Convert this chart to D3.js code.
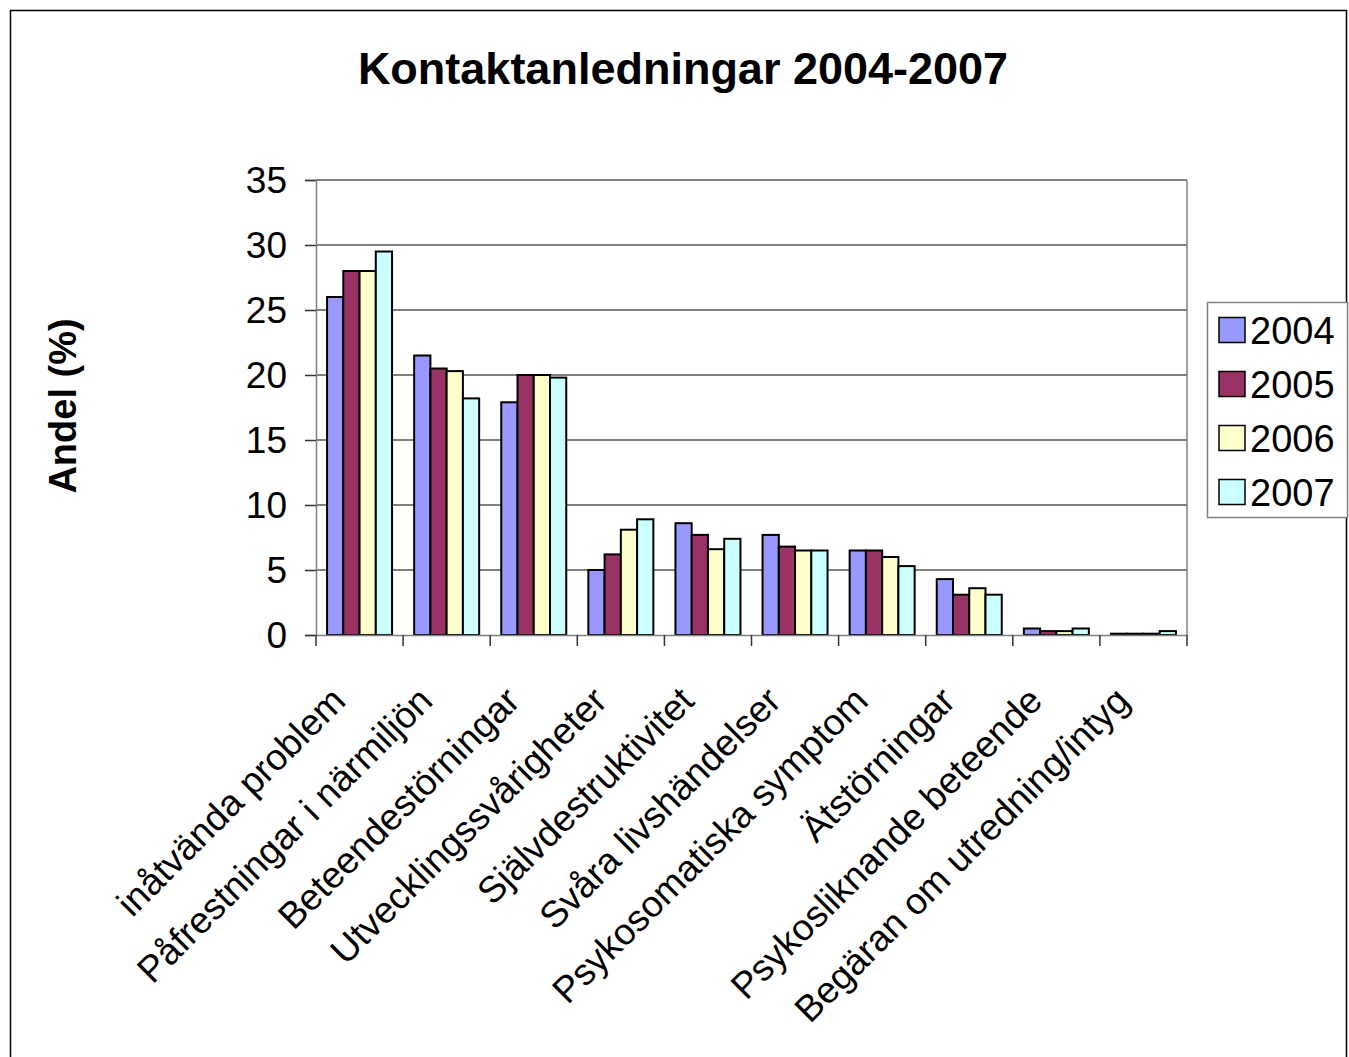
<!DOCTYPE html>
<html>
<head>
<meta charset="utf-8">
<script src="https://cdn.jsdelivr.net/npm/d3@7"></script>
<style>
  body { margin: 0; background: #fff; }
  text { font-family: "Liberation Sans", Arial, sans-serif; }
</style>
</head>
<body>
<div id="chart"></div>
<script>
// chart data
var categories = [
  "inåtvända problem",
  "Påfrestningar i närmiljön",
  "Beteendestörningar",
  "Utvecklingssvårigheter",
  "Självdestruktivitet",
  "Svåra livshändelser",
  "Psykosomatiska symptom",
  "Ätstörningar",
  "Psykosliknande beteende",
  "Begäran om utredning/intyg"
];
var years = ["2004", "2005", "2006", "2007"];
var values2004 = [26, 21.5, 17.9, 5.0, 8.6, 7.7, 6.5, 4.3, 0.5, 0.1];
var values2005 = [28, 20.5, 20, 6.2, 7.7, 6.8, 6.5, 3.1, 0.3, 0.1];
var values2006 = [28, 20.3, 20, 8.1, 6.6, 6.5, 6.0, 3.6, 0.3, 0.1];
var values2007 = [29.5, 18.2, 19.8, 8.9, 7.4, 6.5, 5.3, 3.1, 0.5, 0.3];
var yTicks = [0, 5, 10, 15, 20, 25, 30, 35];
var colors = ["#9999FF", "#993366", "#FFFFCC", "#CCFFFF"];

var seriesValues = [values2004, values2005, values2006, values2007];

var svgWidth = 1349;
var svgHeight = 1057;

var margin = { top: 180, left: 316, right: 1187, bottom: 635 };

var svg = d3.select("#chart")
  .append("svg")
  .attr("width", svgWidth)
  .attr("height", svgHeight);

// outer border
svg.append("rect")
  .attr("x", 10.5).attr("y", 10.5)
  .attr("width", 1336).attr("height", 1060)
  .attr("fill", "none").attr("stroke", "#000").attr("stroke-width", 1.5);

// scales
var x0 = d3.scaleBand()
  .domain(categories)
  .range([margin.left, margin.right])
  .paddingInner(0)
  .paddingOuter(0);

var x1 = d3.scaleBand()
  .domain(years)
  .range([0, x0.bandwidth()])
  .paddingOuter(0.68);

var y = d3.scaleLinear()
  .domain([0, 35])
  .range([margin.bottom, margin.top]);

// gridlines
svg.append("g")
  .selectAll("line")
  .data(yTicks.filter(d => d > 0))
  .enter()
  .append("line")
  .attr("x1", margin.left).attr("x2", margin.right)
  .attr("y1", d => y(d)).attr("y2", d => y(d))
  .attr("stroke", "#000").attr("stroke-width", 1);

// plot area border (right side)
svg.append("line")
  .attr("x1", margin.right).attr("x2", margin.right)
  .attr("y1", margin.top).attr("y2", margin.bottom)
  .attr("stroke", "#808080").attr("stroke-width", 1.5);

// bars
var groups = svg.append("g")
  .selectAll("g")
  .data(categories)
  .enter()
  .append("g")
  .attr("transform", d => `translate(${x0(d)},0)`);

groups.selectAll("rect")
  .data((d, i) => years.map((yr, j) => ({ year: yr, value: seriesValues[j][i], color: colors[j] })))
  .enter()
  .append("rect")
  .attr("x", d => x1(d.year))
  .attr("y", d => y(d.value))
  .attr("width", x1.bandwidth())
  .attr("height", d => y(0) - y(d.value))
  .attr("fill", d => d.color)
  .attr("stroke", "#000")
  .attr("stroke-width", 2);

// y axis
var yAxis = d3.axisLeft(y)
  .tickValues(yTicks)
  .tickSize(11)
  .tickPadding(18);

var yG = svg.append("g")
  .attr("transform", `translate(${margin.left},0)`)
  .call(yAxis);
yG.select(".domain").attr("stroke", "#808080").attr("stroke-width", 1.5);
yG.selectAll(".tick line").attr("stroke", "#333").attr("stroke-width", 1.5);
yG.selectAll(".tick text")
  .attr("font-size", 37)
  .attr("font-family", "Liberation Sans, Arial, sans-serif")
  .attr("fill", "#000")
  .attr("dy", "0.35em");

// x axis
var xAxis = d3.axisBottom(x0).tickSize(0).tickFormat("");
var xG = svg.append("g")
  .attr("transform", `translate(0,${margin.bottom})`)
  .call(xAxis);
xG.select(".domain").attr("stroke", "#808080").attr("stroke-width", 1.5);

// ticks at category boundaries
svg.append("g")
  .selectAll("line")
  .data(categories.concat(["end"]))
  .enter()
  .append("line")
  .attr("x1", (d, i) => margin.left + i * x0.step())
  .attr("x2", (d, i) => margin.left + i * x0.step())
  .attr("y1", margin.bottom).attr("y2", margin.bottom + 11)
  .attr("stroke", "#333").attr("stroke-width", 1.5);

// category labels
svg.append("g")
  .selectAll("text")
  .data(categories)
  .enter()
  .append("text")
  .attr("transform", d => `translate(${x0(d) + x0.bandwidth() / 2 - 12},${margin.bottom + 68}) rotate(-45)`)
  .attr("text-anchor", "end")
  .attr("font-size", 37)
  .attr("fill", "#000")
  .text(d => d);

// title
svg.append("text")
  .attr("x", 683).attr("y", 84)
  .attr("text-anchor", "middle")
  .attr("font-size", 45)
  .attr("font-weight", "bold")
  .text("Kontaktanledningar 2004-2007");

// y label
svg.append("text")
  .attr("transform", "translate(76,406) rotate(-90)")
  .attr("text-anchor", "middle")
  .attr("font-size", 38)
  .attr("font-weight", "bold")
  .text("Andel (%)");

// legend
var legend = svg.append("g");
legend.append("rect")
  .attr("x", 1207.5).attr("y", 302.5)
  .attr("width", 140).attr("height", 215)
  .attr("fill", "#fff").attr("stroke", "#808080").attr("stroke-width", 1.5);

var items = legend.selectAll("g.item")
  .data(years)
  .enter()
  .append("g")
  .attr("class", "item")
  .attr("transform", (d, i) => `translate(1219,${330 + i * 54})`);

items.append("rect")
  .attr("x", 0).attr("y", -12.5)
  .attr("width", 26).attr("height", 25)
  .attr("fill", (d, i) => colors[i])
  .attr("stroke", "#000").attr("stroke-width", 1.5);

items.append("text")
  .attr("x", 31).attr("y", 0)
  .attr("dy", "0.36em")
  .attr("font-size", 38)
  .text(d => d);
</script>
</body>
</html>
